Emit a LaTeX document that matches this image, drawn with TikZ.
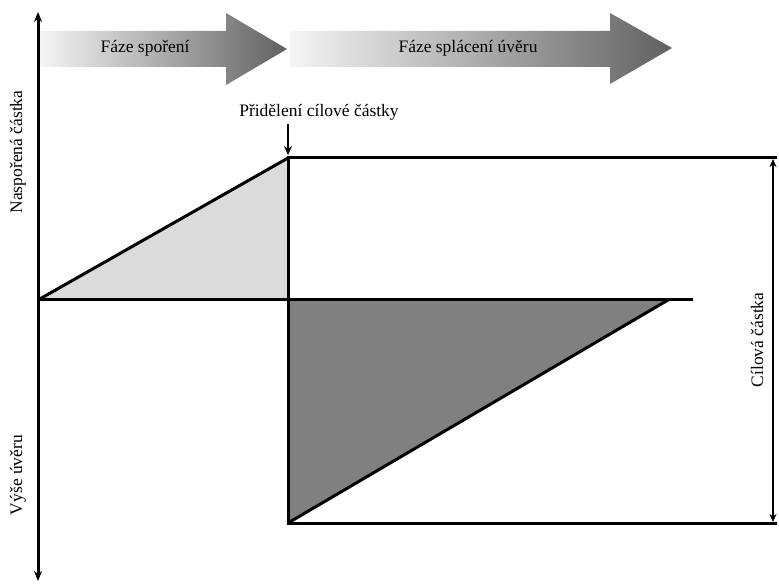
\documentclass[tikz,border=0pt]{standalone}
\usepackage{fontspec}
\setmainfont{Liberation Serif}
\usetikzlibrary{arrows.meta}
\begin{document}
\begin{tikzpicture}[x=1pt,y=-1pt,
  axis/.style={line width=3pt,-{Stealth[length=10pt,width=8pt]}},
  frame/.style={line width=3pt},
  phase/.style={left color=black!4,right color=black!62,draw=none},
  lbl/.style={font=\fontsize{17.5}{20}\selectfont,inner sep=0pt},
  vlbl/.style={lbl,rotate=90}]
\useasboundingbox (0,0) rectangle (779,585);

% phase arrows
\shade[phase] (40,31) -- (226,31) -- (226,13) -- (287,49) -- (226,85) -- (226,67) -- (40,67) -- cycle;
\shade[phase] (290,31) -- (610,31) -- (610,13) -- (672,48) -- (610,84) -- (610,67) -- (290,67) -- cycle;
\node[lbl] (p1) at (145,48) {Fáze spoření};
\node[lbl] (p2) at (468,48) {Fáze splácení úvěru};

% key points
\coordinate (O) at (38,300);
\coordinate (T) at (288,158);
\coordinate (M) at (288,300);
\coordinate (B) at (288,523);
\coordinate (E) at (668,300);
\coordinate (H) at (693,300);
\coordinate (TR) at (777,158);
\coordinate (BR) at (777,523);
\coordinate (up) at (38,12);
\coordinate (dn) at (38,581);

% saving and repayment areas
\fill[black!14] (O) -- (T) -- (M) -- cycle;
\fill[black!50] (M) -- (E) -- (B) -- cycle;

% axes
\draw[axis] (O) -- (up);
\draw[axis] (O) -- (dn);
\draw[frame] (O) -- (H);
\draw[frame] (O) -- (T);
\draw[frame] (B) -- (E);
\draw[frame,line join=miter] (TR) -- (T) -- (B) -- (BR);

% allocation marker
\node[lbl] (alloc) at (319,112) {Přidělení cílové částky};
\coordinate (allocTip) at (288,155);
\draw[line width=2pt,-{Stealth[length=9pt,width=8pt]}] (288,124) -- (allocTip);

% target amount span
\coordinate (ta) at (773,159);
\coordinate (tb) at (773,522);
\draw[line width=2pt,{Stealth[length=8pt,width=7pt]}-{Stealth[length=8pt,width=7pt]}] (ta) -- (tb);
\node[vlbl] (target) at (757,340) {Cílová částka};

% axis labels
\node[vlbl] (saved) at (18,152) {Naspořená částka};
\node[vlbl] (loan) at (18,475) {Výše úvěru};
\end{tikzpicture}
\end{document}
